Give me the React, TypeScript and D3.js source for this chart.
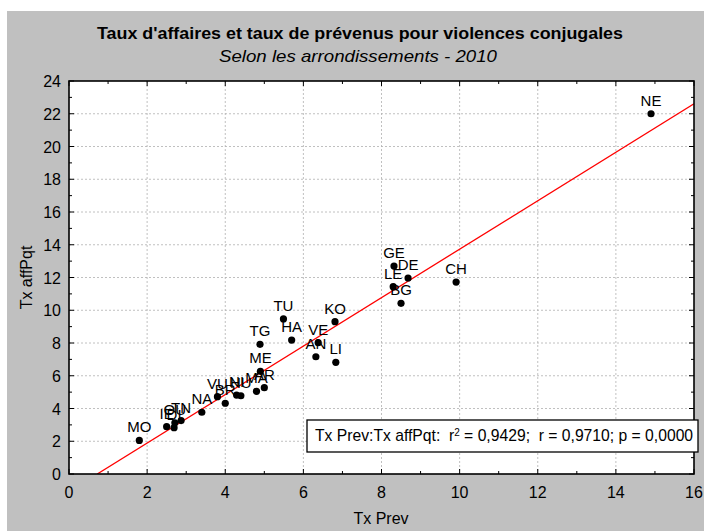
import React from "react";
import * as d3 from "d3";

const labels = ["MO","IE","DI","OU","TN","NA","VU","BR","NI","HU","MA","AR","ME","TG","TU","HA","VE","AN","LI","KO","BG","LE","DE","GE","CH","NE"];
const txPrev = [1.8,2.5,2.69,2.71,2.87,3.4,3.8,4.0,4.29,4.4,4.8,5.0,4.9,4.89,5.49,5.7,6.38,6.32,6.83,6.81,8.5,8.3,8.68,8.32,9.91,14.9];
const txAff = [2.05,2.89,2.83,3.13,3.26,3.77,4.72,4.32,4.82,4.78,5.05,5.27,6.27,7.92,9.47,8.18,8.02,7.16,6.82,9.3,10.42,11.44,11.97,12.7,11.72,22.0];
const xTicks = [0,2,4,6,8,10,12,14,16];
const yTicks = [0,2,4,6,8,10,12,14,16,18,20,22,24];
const fitIntercept = -1.07;
const fitSlope = 1.48;

const FONT = "'Liberation Sans', Arial, Helvetica, sans-serif";

export default function App() {
  const W = 704, H = 531;
  const L = 69, R = 694, T = 81, B = 474;
  const x = d3.scaleLinear().domain([0, 16]).range([L, R]);
  const y = d3.scaleLinear().domain([0, 24]).range([B, T]);
  const minorX = d3.range(1, 16, 2);
  const minorY = d3.range(1, 24, 2);
  const x0 = -fitIntercept / fitSlope;
  const line = d3.line<[number, number]>().x(d => x(d[0])).y(d => y(d[1]));
  const fitPts: [number, number][] = [[x0, 0], [16, fitIntercept + fitSlope * 16]];

  return (
    <svg width={W} height={H} style={{ position: "absolute", left: 0, top: 0, fontFamily: FONT }}>
      <rect x={0} y={0} width={W} height={H} fill="#fff" />
      <rect x={7} y={11} width={W - 7} height={H - 11} fill="#c0c0c0" />
      <text x={360} y={39} textAnchor="middle" fontSize={17} fontWeight="bold" fill="#000" textLength={526} lengthAdjust="spacingAndGlyphs">Taux d'affaires et taux de prévenus pour violences conjugales</text>
      <text x={358} y={62} textAnchor="middle" fontSize={17} fontStyle="italic" fill="#000" textLength={278} lengthAdjust="spacingAndGlyphs">Selon les arrondissements - 2010</text>
      <rect x={L} y={T} width={R - L} height={B - T} fill="#fff" />
      {xTicks.slice(1, -1).map(t => (
        <line key={"gx" + t} x1={x(t)} x2={x(t)} y1={T} y2={B} stroke="#b0b0b0" strokeWidth={0.8} strokeDasharray="2,2" />
      ))}
      {yTicks.slice(1, -1).map(t => (
        <line key={"gy" + t} x1={L} x2={R} y1={y(t)} y2={y(t)} stroke="#b0b0b0" strokeWidth={0.8} strokeDasharray="2,2" />
      ))}
      <clipPath id="clip"><rect x={L} y={T} width={R - L} height={B - T} /></clipPath>
      <path d={line(fitPts) || ""} stroke="#ff0000" strokeWidth={1.3} fill="none" clipPath="url(#clip)" />
      {txPrev.map((v, i) => (
        <circle key={"p" + i} cx={x(v)} cy={y(txAff[i])} r={3.6} fill="#000" />
      ))}
      {txPrev.map((v, i) => (
        <text key={"l" + i} x={x(v)} y={y(txAff[i]) - 8} textAnchor="middle" fontSize={15} fill="#000">{labels[i]}</text>
      ))}
      {xTicks.map(t => (
        <g key={"tx" + t}>
          <line x1={x(t)} x2={x(t)} y1={B} y2={B - 5} stroke="#000" strokeWidth={1} />
          <line x1={x(t)} x2={x(t)} y1={T} y2={T + 5} stroke="#000" strokeWidth={1} />
          <text x={x(t)} y={498} textAnchor="middle" fontSize={16} fill="#000">{t}</text>
        </g>
      ))}
      {minorX.map(t => (
        <g key={"mx" + t}>
          <line x1={x(t)} x2={x(t)} y1={B} y2={B - 3} stroke="#000" strokeWidth={1} />
          <line x1={x(t)} x2={x(t)} y1={T} y2={T + 3} stroke="#000" strokeWidth={1} />
        </g>
      ))}
      {yTicks.map(t => (
        <g key={"ty" + t}>
          <line x1={L} x2={L + 5} y1={y(t)} y2={y(t)} stroke="#000" strokeWidth={1} />
          <line x1={R} x2={R - 5} y1={y(t)} y2={y(t)} stroke="#000" strokeWidth={1} />
          <text x={61} y={y(t) + 6} textAnchor="end" fontSize={16} fill="#000">{t}</text>
        </g>
      ))}
      {minorY.map(t => (
        <g key={"my" + t}>
          <line x1={L} x2={L + 3} y1={y(t)} y2={y(t)} stroke="#000" strokeWidth={1} />
          <line x1={R} x2={R - 3} y1={y(t)} y2={y(t)} stroke="#000" strokeWidth={1} />
        </g>
      ))}
      <rect x={L} y={T} width={R - L} height={B - T} fill="none" stroke="#000" strokeWidth={1.6} />
      <text x={381} y={524} textAnchor="middle" fontSize={16} fill="#000">Tx Prev</text>
      <text transform={`translate(32,${(T + B) / 2}) rotate(-90)`} textAnchor="middle" fontSize={16} fill="#000">Tx affPqt</text>
      <rect x={307} y={420} width={391} height={32} fill="#fff" stroke="#000" strokeWidth={1.3} />
      <text x={315} y={441} fontSize={15.7} fill="#000">
        Tx Prev:Tx affPqt:{"\u00a0\u00a0"}r<tspan dy={-5} fontSize={10}>2</tspan><tspan dy={5}> = 0,9429;{"\u00a0\u00a0"}r = 0,9710; p = 0,0000</tspan>
      </text>
    </svg>
  );
}
